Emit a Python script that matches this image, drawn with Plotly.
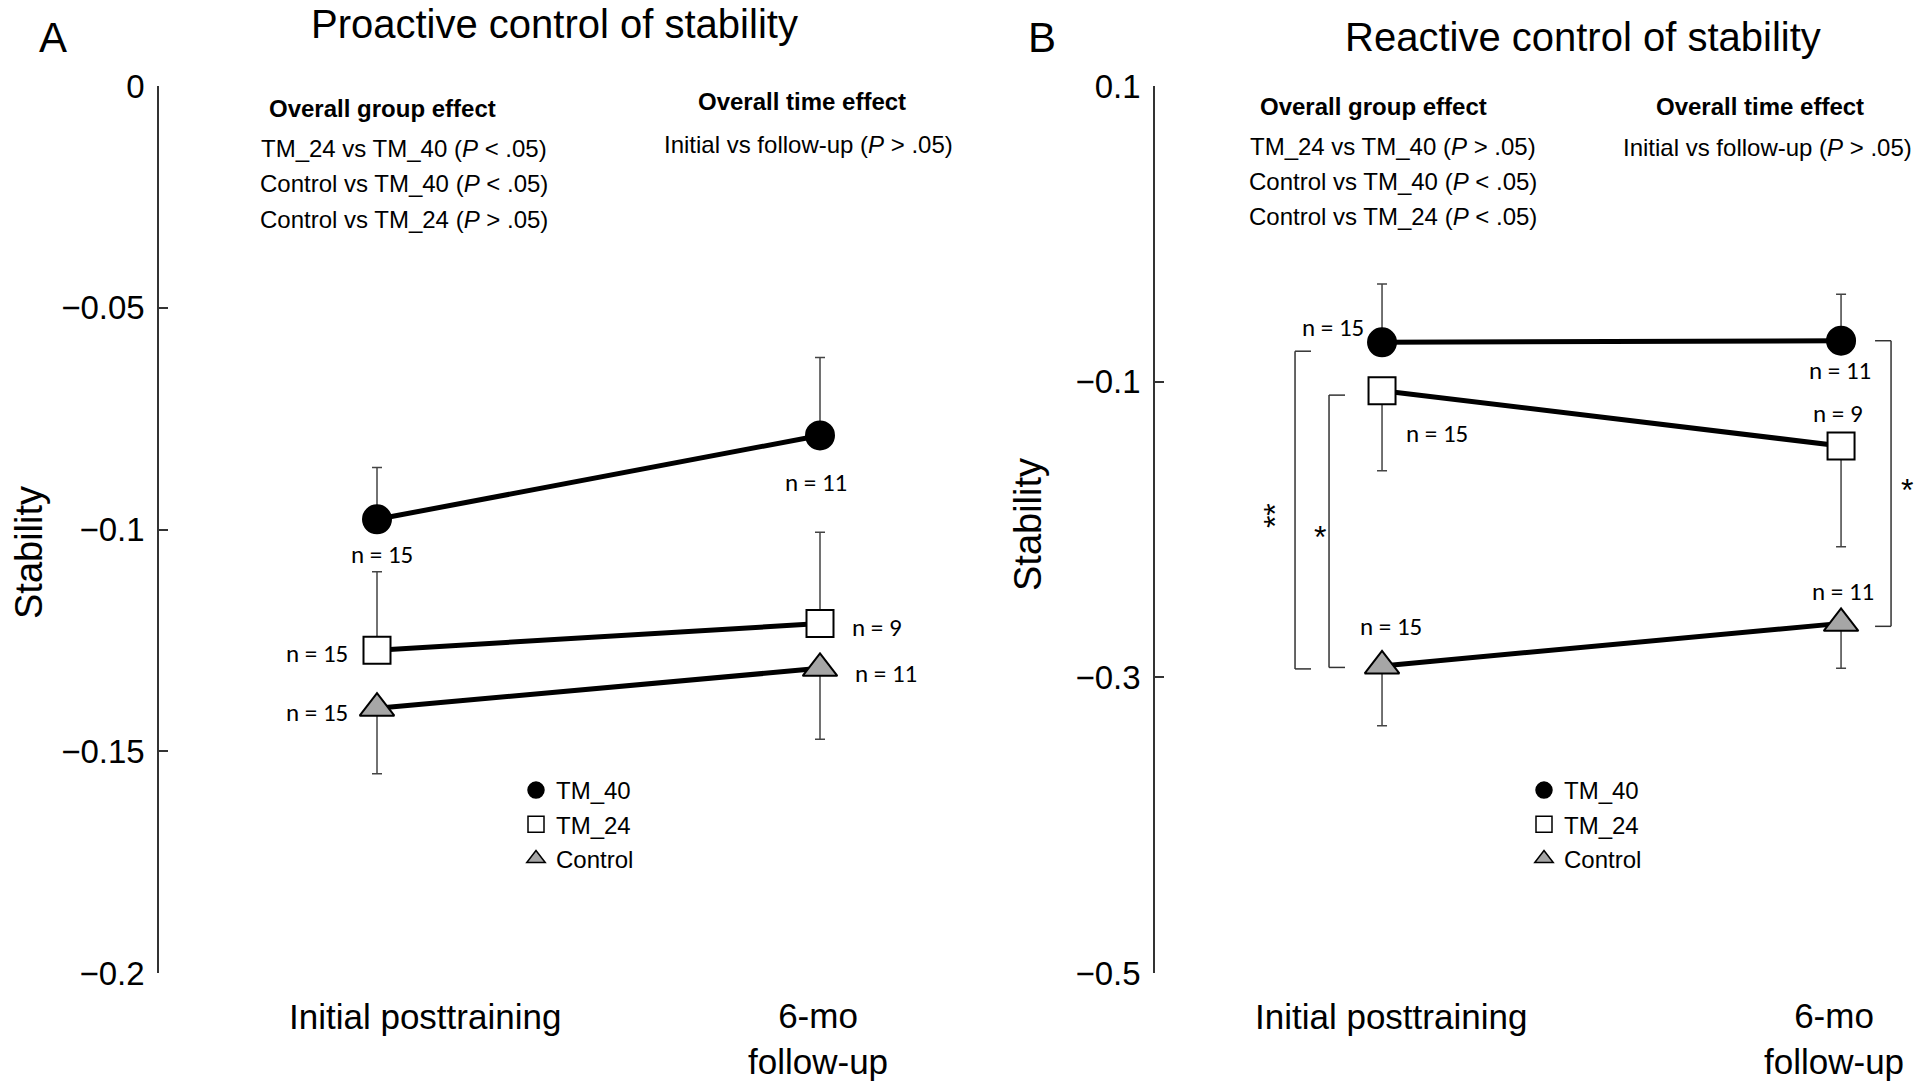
import plotly.graph_objects as go

# ---------------- data ----------------
time_points = [0, 1]
time_labels = ["Initial posttraining", "6-mo<br>follow-up"]
groups = ["TM_40", "TM_24", "Control"]

# Panel A: proactive control of stability
a_tm40 = [-0.0977, -0.0788]
a_tm40_err = [0.0117, 0.0176]      # upper bars
a_tm24 = [-0.1272, -0.1212]
a_tm24_err = [0.0177, 0.0206]      # upper bars
a_ctrl = [-0.1403, -0.1313]
a_ctrl_err = [0.0148, 0.0160]      # lower bars
a_n_tm40 = [15, 11]
a_n_tm24 = [15, 9]
a_n_ctrl = [15, 11]

# Panel B: reactive control of stability
b_tm40 = [-0.0734, -0.0723]
b_tm40_err = [0.0395, 0.0314]      # upper bars
b_tm24 = [-0.1061, -0.1435]
b_tm24_err = [0.0541, 0.0681]      # lower bars
b_ctrl = [-0.2923, -0.2635]
b_ctrl_err = [0.0404, 0.0304]      # lower bars
b_n_tm40 = [15, 11]
b_n_tm24 = [15, 9]
b_n_ctrl = [15, 11]

a_ticks = [0, -0.05, -0.1, -0.15, -0.2]
a_ticktext = ["0", "\u22120.05", "\u22120.1", "\u22120.15", "\u22120.2"]
b_ticks = [0.1, -0.1, -0.3, -0.5]
b_ticktext = ["0.1", "\u22120.1", "\u22120.3", "\u22120.5"]

a_group_lines = ["TM_24 vs TM_40 (<i>P</i> < .05)",
                 "Control vs TM_40 (<i>P</i> < .05)",
                 "Control vs TM_24 (<i>P</i> > .05)"]
b_group_lines = ["TM_24 vs TM_40 (<i>P</i> > .05)",
                 "Control vs TM_40 (<i>P</i> < .05)",
                 "Control vs TM_24 (<i>P</i> < .05)"]
time_line = "Initial vs follow-up (<i>P</i> > .05)"

# ---------------- styling ----------------
W, H = 1920, 1083
FONT = "Liberation Sans, Arial, sans-serif"
NFONT = "Carlito, Lato, sans-serif"
styles = {
    "TM_40": dict(symbol="circle", color="black", size=28),
    "TM_24": dict(symbol="square", color="white", size=27),
    "Control": dict(symbol="triangle-up", color="#a6a6a6", size=30),
}


def px(x):
    return x / W


def py(y):
    return 1 - y / H


fig = go.Figure()


def add_series(name, yvals, err, up, xa, ya, legend):
    st = styles[name]
    zeros = [0] * len(err)
    fig.add_trace(go.Scatter(
        x=time_points, y=yvals, mode="lines+markers", xaxis=xa, yaxis=ya,
        line=dict(color="black", width=5),
        marker=dict(symbol=st["symbol"], size=st["size"], color=st["color"],
                    line=dict(color="black", width=2)),
        error_y=dict(type="data", symmetric=False,
                     array=err if up else zeros,
                     arrayminus=zeros if up else err,
                     color="#444444", thickness=1.5, width=5),
        showlegend=False, hoverinfo="skip"))
    # legend-only entry
    fig.add_trace(go.Scatter(
        x=[None], y=[None], mode="markers", xaxis=xa, yaxis=ya, name=name,
        marker=dict(symbol=st["symbol"], size=st["size"], color=st["color"],
                    line=dict(color="black", width=1.5)),
        showlegend=True, legend=legend))


add_series("TM_40", a_tm40, a_tm40_err, True, "x", "y", "legend")
add_series("TM_24", a_tm24, a_tm24_err, True, "x", "y", "legend")
add_series("Control", a_ctrl, a_ctrl_err, False, "x", "y", "legend")
add_series("TM_40", b_tm40, b_tm40_err, True, "x2", "y2", "legend2")
add_series("TM_24", b_tm24, b_tm24_err, False, "x2", "y2", "legend2")
add_series("Control", b_ctrl, b_ctrl_err, False, "x2", "y2", "legend2")

ydom = [py(973), py(86)]
yaxis_common = dict(ticks="inside", ticklen=9, tickwidth=1.5, tickcolor="#333",
                    showline=True, linecolor="#333", linewidth=1.5,
                    showgrid=False, zeroline=False, automargin=False,
                    tickfont=dict(family=FONT, size=33, color="black"),
                    domain=ydom, ticklabelstandoff=6)
xaxis_common = dict(showline=False, showgrid=False, zeroline=False,
                    showticklabels=False, ticks="", automargin=False)

fig.update_layout(
    width=W, height=H, margin=dict(l=0, r=0, t=0, b=0, autoexpand=False),
    paper_bgcolor="white", plot_bgcolor="white",
    xaxis=dict(domain=[px(159), px(998)], range=[-0.4921, 1.4018], **xaxis_common),
    yaxis=dict(range=[-0.2, 0], tickvals=a_ticks, ticktext=a_ticktext,
               anchor="x", **yaxis_common),
    xaxis2=dict(domain=[px(1155), 1], range=[-0.4946, 1.172], anchor="y2",
                **xaxis_common),
    yaxis2=dict(range=[-0.5, 0.1], tickvals=b_ticks, ticktext=b_ticktext,
                anchor="x2", **yaxis_common),
    legend=dict(x=px(516), y=py(768), xanchor="left", yanchor="top",
                bgcolor="rgba(0,0,0,0)", font=dict(family=FONT, size=24, color="black"),
                itemsizing="trace", tracegroupgap=0),
    legend2=dict(x=px(1524), y=py(768), xanchor="left", yanchor="top",
                 bgcolor="rgba(0,0,0,0)", font=dict(family=FONT, size=24, color="black"),
                 itemsizing="trace", tracegroupgap=0),
)

ann = []


def text(x, y, t, size=24, bold=False, angle=0, family=FONT):
    ann.append(dict(x=px(x), y=py(y), xref="paper", yref="paper", text=t,
                    showarrow=False, xanchor="center", yanchor="middle",
                    textangle=angle,
                    font=dict(family=family, size=size, color="black",
                              weight="bold" if bold else "normal")))


# panel letters & titles
text(53, 37, "A", size=42)
text(1042, 37, "B", size=42)
text(554, 24, "Proactive control of stability", size=40)
text(1583, 37, "Reactive control of stability", size=40)
# y titles
text(29, 553, "Stability", size=38, angle=-90)
text(1028, 525, "Stability", size=38, angle=-90)
# statistics text
text(382, 108, "Overall group effect", bold=True)
for yy, t in zip([148, 184, 219], a_group_lines):
    text(404, yy, t)
text(802, 101, "Overall time effect", bold=True)
text(808, 144, time_line)
text(1373, 107, "Overall group effect", bold=True)
for yy, t in zip([146, 182, 217], b_group_lines):
    text(1393, yy, t)
text(1760, 107, "Overall time effect", bold=True)
text(1767, 147, time_line)

# x category labels (anchored to data positions)
for xr, shifts in [("x", [48, -2]), ("x2", [9, -7])]:
    for tp, lab, sh in zip(time_points, time_labels, shifts):
        ann.append(dict(x=tp, y=py(1038) if "<br>" in lab else py(1016),
                        xref=xr, yref="paper", text=lab, showarrow=False,
                        xanchor="center", yanchor="middle", xshift=sh,
                        font=dict(family=FONT, size=35, color="black")))


# n labels anchored to their data points
def n_labels(xr, yr, vals, ns, shifts):
    for tp, v, n, (dx, dy) in zip(time_points, vals, ns, shifts):
        ann.append(dict(x=tp, y=v, xref=xr, yref=yr, text=f"n = {n}",
                        showarrow=False, xanchor="center", yanchor="middle",
                        xshift=dx, yshift=dy,
                        font=dict(family=NFONT, size=25, color="black")))


n_labels("x", "y", a_tm40, a_n_tm40, [(5, -35), (-4, -47)])
n_labels("x", "y", a_tm24, a_n_tm24, [(-60, -3), (57, -4)])
n_labels("x", "y", a_ctrl, a_n_ctrl, [(-60, -4), (66, -5)])
n_labels("x2", "y2", b_tm40, b_n_tm40, [(-49, 15), (-1, -30)])
n_labels("x2", "y2", b_tm24, b_n_tm24, [(55, -43), (-3, 32)])
n_labels("x2", "y2", b_ctrl, b_n_ctrl, [(9, 39), (2, 32)])

# significance brackets (panel B), y ends taken from the compared group means
shapes = []


def bracket(anchor, top, bot, xline, xtick, star, star_dx):
    for (x0, y0, x1, y1) in [(xtick, top, xline, top), (xline, top, xline, bot),
                             (xline, bot, xtick, bot)]:
        shapes.append(dict(type="line", xref="x2", yref="y2", xsizemode="pixel",
                           xanchor=anchor, x0=x0, x1=x1, y0=y0, y1=y1,
                           line=dict(color="#333", width=1.5)))
    ann.append(dict(x=anchor, y=(top + bot) / 2, xref="x2", yref="y2", text=star,
                    showarrow=False, xanchor="center", yanchor="middle",
                    xshift=star_dx, yshift=-6, textangle=-90 if len(star) > 1 else 0,
                    font=dict(family=FONT, size=32, color="black")))


bracket(0, b_tm40[0] - 0.006, b_ctrl[0] - 0.002, -87, -71, "**", -107)
bracket(0, b_tm24[0] - 0.003, b_ctrl[0] - 0.001, -53, -37, "*", -62)
bracket(1, b_tm40[1], b_ctrl[1] - 0.002, 50, 34, "*", 66)

fig.update_layout(annotations=ann, shapes=shapes)
fig.write_html(
    "out.html",
    config={"displayModeBar": False},
    post_script="document.body.style.margin='0';"
                "document.body.style.overflow='hidden';",
)
